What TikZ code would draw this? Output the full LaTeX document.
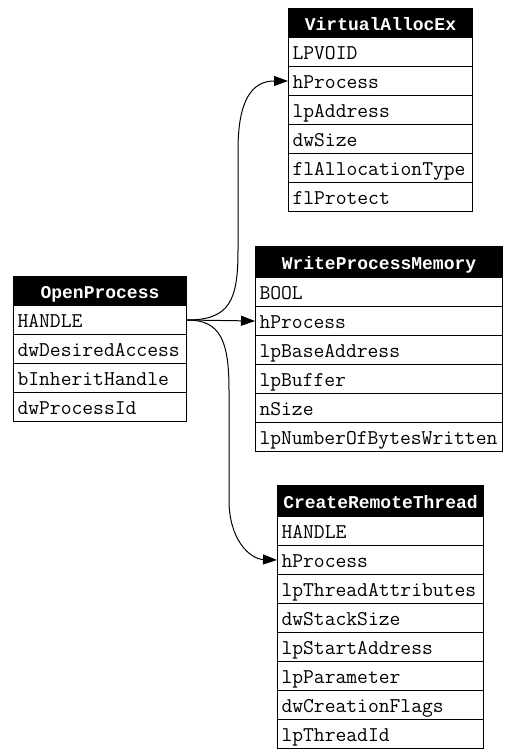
\documentclass[tikz,border=0pt]{standalone}
\usepackage{fontspec}
\newfontfamily\naslovfont{Liberation Mono}
\usetikzlibrary{arrows.meta}

\begin{document}
\begin{tikzpicture}[x=1pt,y=-1pt,font=\ttfamily\fontsize{21}{23}\selectfont,
 polje/.style={draw,line width=1pt,anchor=north west,inner sep=0pt,inner xsep=4pt,
  minimum height=29pt,text width=#1,text height=16pt,text depth=2pt,align=left},
 zaglavlje/.style={polje=#1,fill=black,text=white,font=\naslovfont\bfseries\fontsize{18}{20}\selectfont,align=center},
 veza/.style={line width=1pt,-{Triangle[length=14pt,width=10pt]}}]
\useasboundingbox[fill=white] (0,0) rectangle (518,755);
% OpenProcess
\node[zaglavlje=165] (OP) at (13,276) {OpenProcess};
\foreach \i/\lab in {1/HANDLE,2/dwDesiredAccess,3/bInheritHandle,4/dwProcessId}{
 \node[polje=165] (OP\i) at (13,{276+29*\i}) {\lab};}
% VirtualAllocEx
\node[zaglavlje=176] (VA) at (288,8) {VirtualAllocEx};
\foreach \i/\lab in {0/LPVOID,1/hProcess,2/lpAddress,3/dwSize,4/flAllocationType,5/flProtect}{
 \node[polje=176] (VA\i) at (288,{37+29*\i}) {\lab};}
% WriteProcessMemory
\node[zaglavlje=239,minimum height=31pt] (WPM) at (255,246) {WriteProcessMemory};
\foreach \i/\lab in {0/BOOL,1/hProcess,2/lpBaseAddress,3/lpBuffer,4/nSize,5/lpNumberOfBytesWritten}{
 \node[polje=239] (WPM\i) at (255,{277+29*\i}) {\lab};}
% CreateRemoteThread
\node[zaglavlje=198,minimum height=31pt] (CRT) at (277,485) {CreateRemoteThread};
\foreach \i/\lab in {0/HANDLE,1/hProcess,2/lpThreadAttributes,3/dwStackSize,4/lpStartAddress,
 5/lpParameter,6/dwCreationFlags,7/lpThreadId}{
 \node[polje=198] (CRT\i) at (277,{516+29*\i}) {\lab};}
% veze
\draw[veza] (OP1.east) .. controls (230,320) and (238,300) .. (238,250) -- (238,150)
 .. controls (238,100) and (252,81) .. (VA1.west);
\draw[veza] (OP1.east) -- (WPM1.west);
\draw[veza] (OP1.east) .. controls (220,320) and (229,340) .. (229,390) -- (229,500)
 .. controls (229,540) and (250,559) .. (CRT1.west);
\end{tikzpicture}
\end{document}
